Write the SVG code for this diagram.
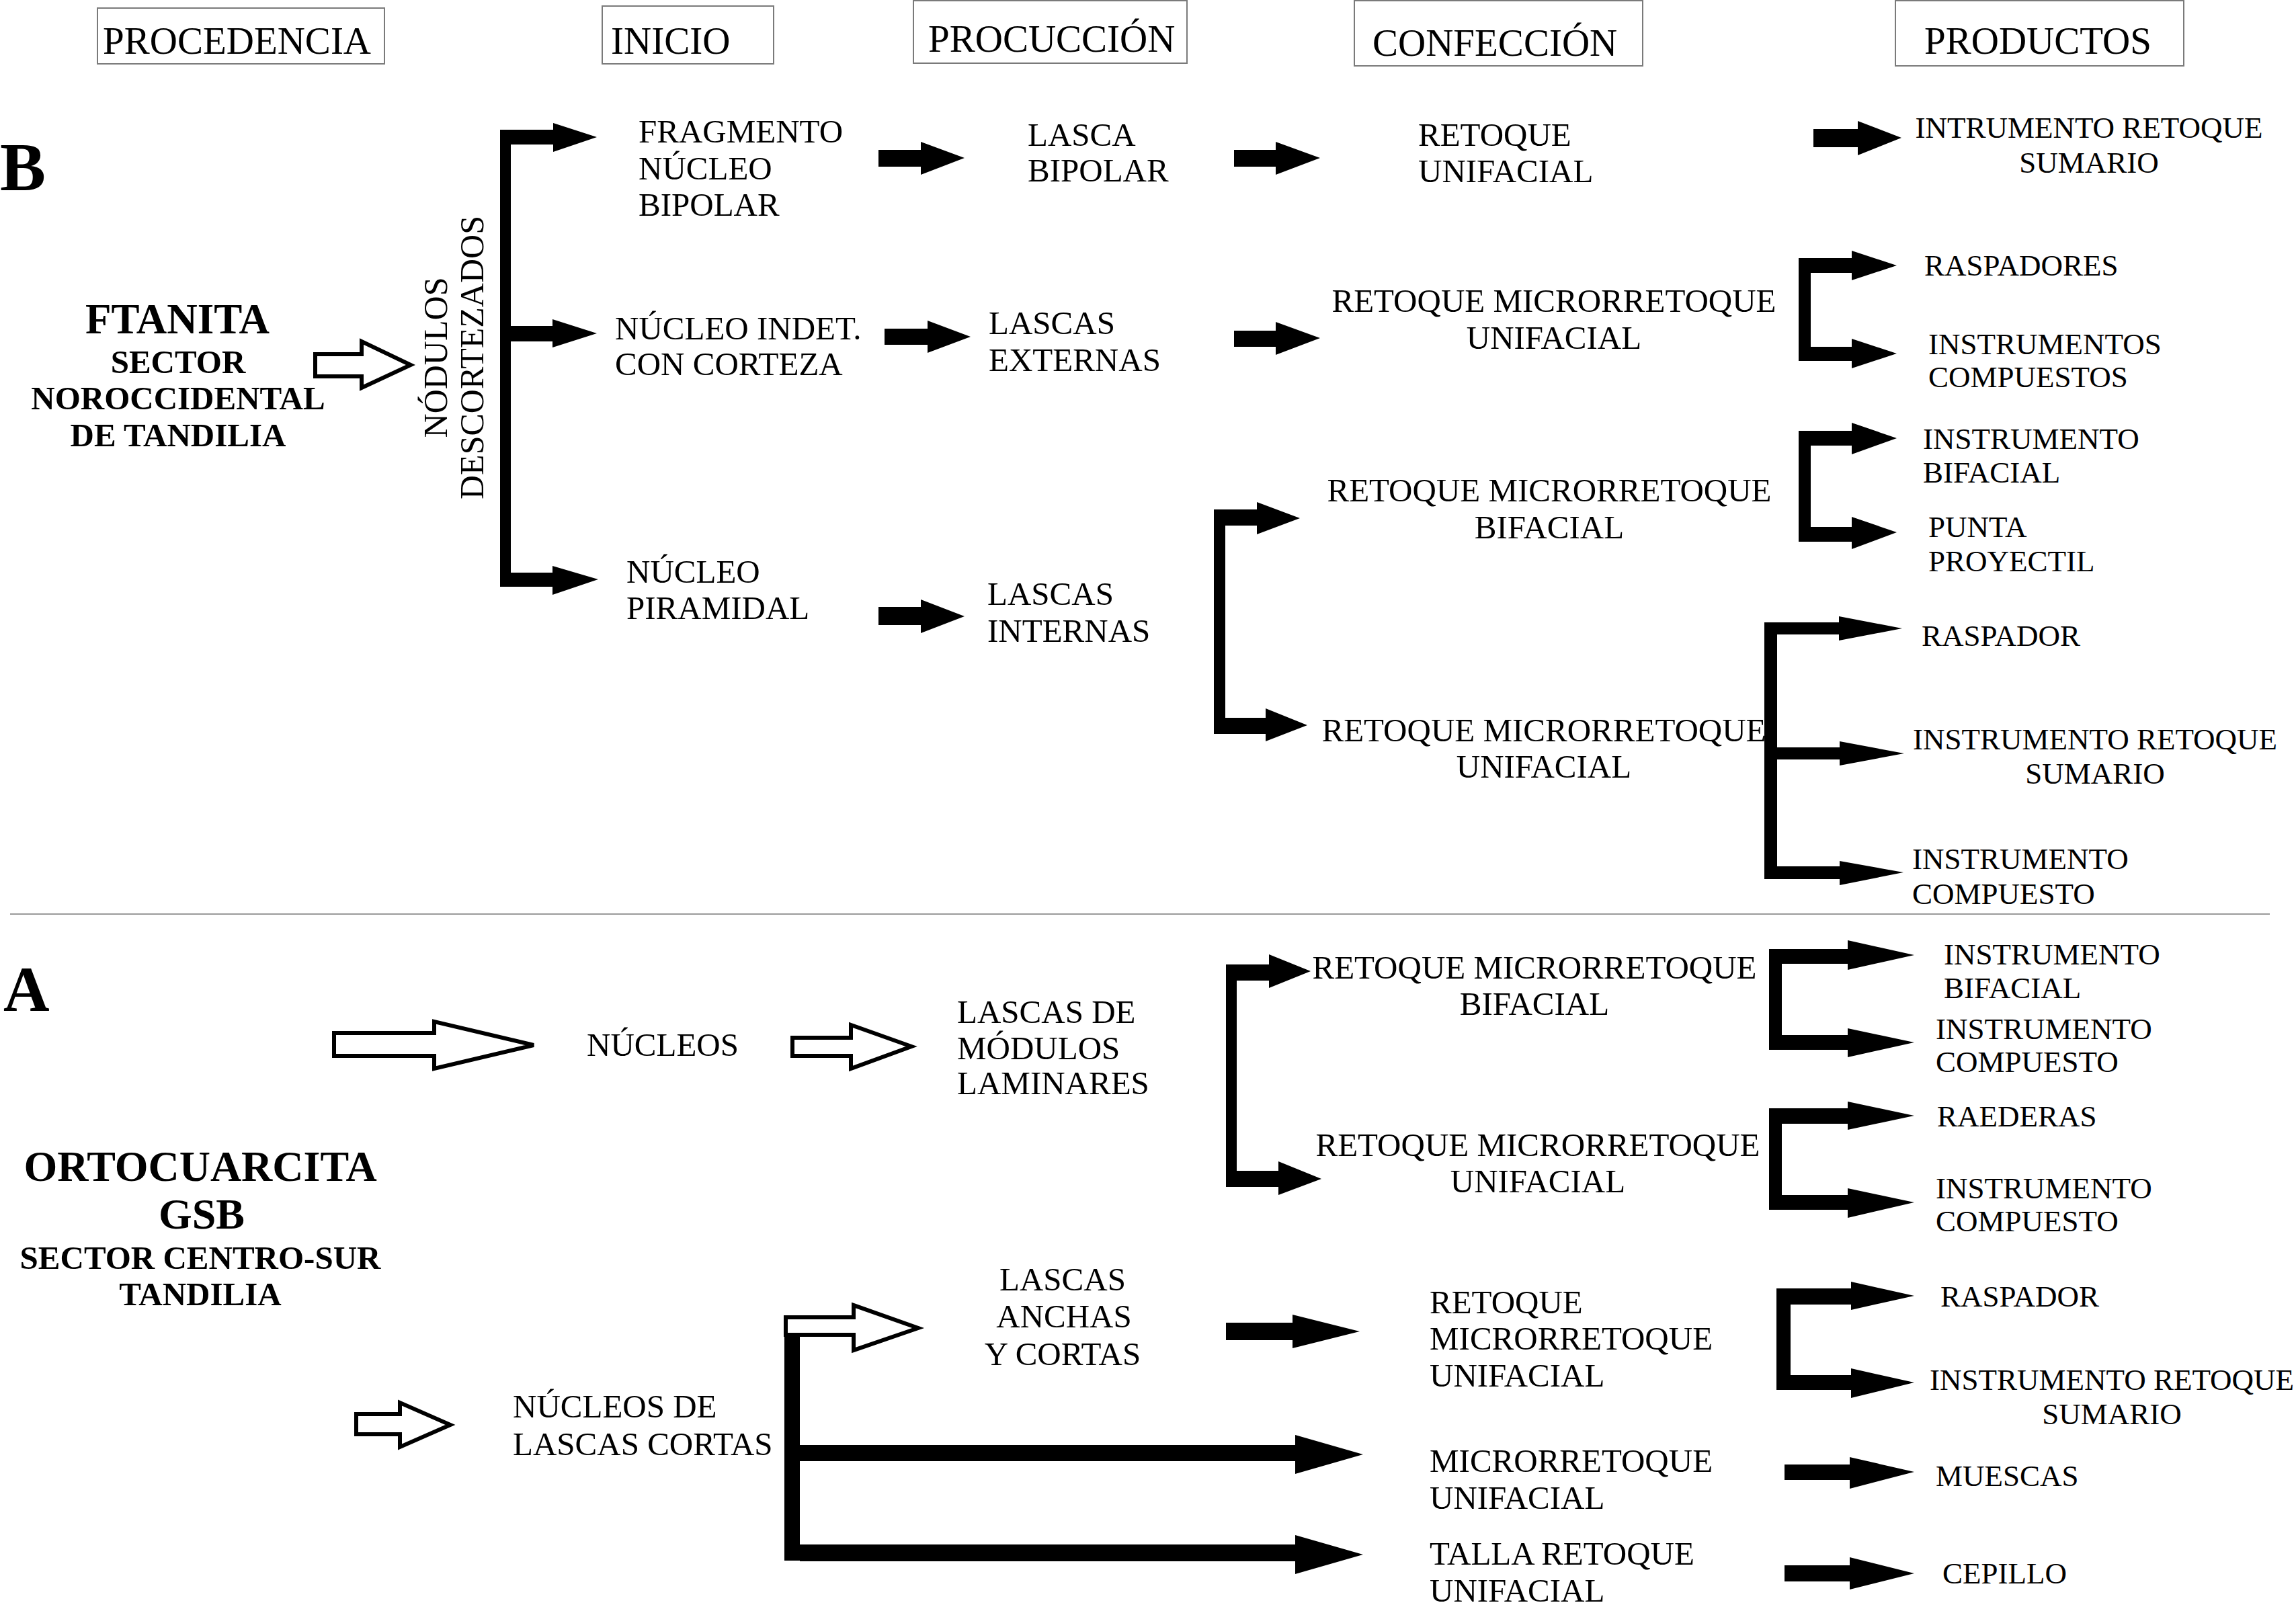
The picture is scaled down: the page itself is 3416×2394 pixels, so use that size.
<svg xmlns="http://www.w3.org/2000/svg" width="3416" height="2394" viewBox="0 0 3416 2394">
<style>
text{font-family:"Liberation Serif","Times New Roman",serif;fill:#000}
.t{font-size:49px}
.p{font-size:45px}
.h{font-size:57px}
.b{font-weight:bold;font-size:49px}
.bl{font-weight:bold;font-size:63px}
.m{text-anchor:middle}
.box{fill:#fff;stroke:#7a7a7a;stroke-width:2}
.ar{fill:#000}
.ho{fill:#fff;stroke:#000;stroke-width:6;stroke-linejoin:miter}
.sep{stroke:#9a9a9a;stroke-width:2}
</style>
<rect width="3416" height="2394" fill="#fff"/>

<g id="headers">
<g id="h-procedencia"><rect class="box" x="145" y="12" width="427" height="83"/><text class="h" x="153" y="80">PROCEDENCIA</text></g>
<g id="h-inicio"><rect class="box" x="896" y="9" width="255" height="86"/><text class="h" x="909" y="80">INICIO</text></g>
<g id="h-produccion"><rect class="box" x="1359" y="1" width="407" height="93"/><text class="h" x="1381" y="77">PROCUCCIÓN</text></g>
<g id="h-confeccion"><rect class="box" x="2015" y="1" width="429" height="97"/><text class="h" x="2042" y="83">CONFECCIÓN</text></g>
<g id="h-productos"><rect class="box" x="2820" y="1" width="429" height="97"/><text class="h" x="2863" y="80">PRODUCTOS</text></g>
</g>

<g id="connectors">
<!-- B -->
<polygon class="ho" points="469,527 538,527 538,508 611,543 538,577 538,560 469,560"/>
<rect class="ar" x="744" y="193" width="16" height="680"/>
<polygon class="ar" points="760,193 823,193 823,183 888,204 823,226 823,215 760,215"/>
<polygon class="ar" points="760,485 822,485 822,475 888,496 822,517 822,508 760,508"/>
<polygon class="ar" points="760,852 822,852 822,842 890,862 822,885 822,873 760,873"/>
<polygon class="ar" points="1307,223 1370,223 1370,211 1435,235 1370,260 1370,248 1307,248"/>
<polygon class="ar" points="1836,223 1898,223 1898,211 1964,235 1898,260 1898,248 1836,248"/>
<polygon class="ar" points="2698,192 2764,192 2764,180 2829,205 2764,231 2764,219 2698,219"/>
<polygon class="ar" points="1316,489 1380,489 1380,477 1444,501 1380,525 1380,513 1316,513"/>
<polygon class="ar" points="1836,492 1898,492 1898,479 1964,503 1898,528 1898,516 1836,516"/>
<polygon class="ar" points="1307,903 1370,903 1370,892 1435,917 1370,942 1370,930 1307,930"/>
<rect class="ar" x="2676" y="384" width="18" height="153"/>
<polygon class="ar" points="2694,384 2755,384 2755,373 2822,395 2755,417 2755,406 2694,406"/>
<polygon class="ar" points="2694,516 2755,516 2755,504 2822,526 2755,548 2755,537 2694,537"/>
<rect class="ar" x="1806" y="758" width="17" height="334"/>
<polygon class="ar" points="1823,758 1870,758 1870,747 1934,771 1870,795 1870,782 1823,782"/>
<polygon class="ar" points="1823,1068 1883,1068 1883,1054 1945,1079 1883,1103 1883,1092 1823,1092"/>
<rect class="ar" x="2676" y="641" width="18" height="165"/>
<polygon class="ar" points="2694,641 2755,641 2755,629 2822,652 2755,676 2755,663 2694,663"/>
<polygon class="ar" points="2694,784 2755,784 2755,769 2822,792 2755,817 2755,806 2694,806"/>
<rect class="ar" x="2625" y="926" width="19" height="382"/>
<polygon class="ar" points="2644,926 2736,926 2736,917 2830,935 2736,953 2736,944 2644,944"/>
<polygon class="ar" points="2644,1112 2737,1112 2737,1103 2833,1121 2737,1139 2737,1130 2644,1130"/>
<polygon class="ar" points="2644,1289 2737,1289 2737,1281 2832,1298 2737,1317 2737,1308 2644,1308"/>
<line class="sep" x1="15" y1="1360" x2="3377" y2="1360"/>
<!-- A -->
<polygon class="ho" points="497,1537 646,1537 646,1520 794,1555 646,1590 646,1571 497,1571"/>
<polygon class="ho" points="1179,1544 1266,1544 1266,1525 1356,1557 1266,1590 1266,1571 1179,1571"/>
<polygon class="ho" points="530,2104 595,2104 595,2087 670,2120 595,2153 595,2134 530,2134"/>
<polygon class="ho" points="1169,1960 1270,1960 1270,1942 1366,1976 1270,2009 1270,1986 1169,1986"/>
<rect class="ar" x="1167" y="1986" width="23" height="336"/>
<polygon class="ar" points="1190,2150 1927,2150 1927,2135 2028,2164 1927,2193 1927,2174 1190,2174"/>
<polygon class="ar" points="1190,2298 1927,2298 1927,2284 2028,2313 1927,2342 1927,2323 1190,2323"/>
<polygon class="ar" points="1824,1968 1923,1968 1923,1956 2023,1981 1923,2006 1923,1994 1824,1994"/>
<rect class="ar" x="1824" y="1435" width="16" height="331"/>
<polygon class="ar" points="1840,1435 1888,1435 1888,1420 1950,1445 1888,1470 1888,1459 1840,1459"/>
<polygon class="ar" points="1840,1742 1902,1742 1902,1728 1966,1754 1902,1778 1902,1766 1840,1766"/>
<rect class="ar" x="2632" y="1412" width="19" height="150"/>
<polygon class="ar" points="2651,1412 2749,1412 2749,1399 2848,1421 2749,1443 2749,1434 2651,1434"/>
<polygon class="ar" points="2651,1540 2749,1540 2749,1530 2848,1551 2749,1573 2749,1562 2651,1562"/>
<rect class="ar" x="2632" y="1649" width="19" height="151"/>
<polygon class="ar" points="2651,1649 2749,1649 2749,1639 2848,1660 2749,1681 2749,1672 2651,1672"/>
<polygon class="ar" points="2651,1778 2749,1778 2749,1768 2848,1789 2749,1812 2749,1800 2651,1800"/>
<rect class="ar" x="2643" y="1917" width="21" height="151"/>
<polygon class="ar" points="2664,1917 2754,1917 2754,1907 2848,1928 2754,1949 2754,1941 2664,1941"/>
<polygon class="ar" points="2664,2046 2754,2046 2754,2036 2848,2057 2754,2080 2754,2068 2664,2068"/>
<polygon class="ar" points="2655,2179 2752,2179 2752,2168 2848,2190 2752,2215 2752,2202 2655,2202"/>
<polygon class="ar" points="2655,2329 2752,2329 2752,2317 2848,2341 2752,2365 2752,2353 2655,2353"/>
</g>

<g id="section-B">
<g id="label-B"><text class="b" style="font-size:102px" x="0" y="283">B</text></g>
<g id="ftanita"><text class="bl m" x="264" y="496">FTANITA</text><text class="b m" x="265" y="555">SECTOR</text><text class="b m" x="265" y="609">NOROCCIDENTAL</text><text class="b m" x="265" y="664">DE TANDILIA</text></g>
<g id="nodulos"><text style="font-size:50px" class="m" transform="translate(665,532) rotate(-90)">NÓDULOS</text><text style="font-size:50px" class="m" transform="translate(719,532) rotate(-90)">DESCORTEZADOS</text></g>
<g id="fragmento"><text class="t" x="950" y="212">FRAGMENTO</text><text class="t" x="950" y="267">NÚCLEO</text><text class="t" x="950" y="321">BIPOLAR</text></g>
<g id="nucleo-indet"><text class="t" x="915" y="505">NÚCLEO INDET.</text><text class="t" x="915" y="558">CON CORTEZA</text></g>
<g id="nucleo-piramidal"><text class="t" x="932" y="867">NÚCLEO</text><text class="t" x="932" y="921">PIRAMIDAL</text></g>
<g id="lasca-bipolar"><text class="t" x="1529" y="217">LASCA</text><text class="t" x="1529" y="270">BIPOLAR</text></g>
<g id="lascas-externas"><text class="t" x="1471" y="497">LASCAS</text><text class="t" x="1471" y="552">EXTERNAS</text></g>
<g id="lascas-internas"><text class="t" x="1469" y="900">LASCAS</text><text class="t" x="1469" y="955">INTERNAS</text></g>
<g id="b-retoque-unifacial"><text class="t" x="2110" y="217">RETOQUE</text><text class="t" x="2110" y="271">UNIFACIAL</text></g>
<g id="b-rm-unifacial-1"><text class="t m" x="2312" y="464">RETOQUE MICRORRETOQUE</text><text class="t m" x="2312" y="519">UNIFACIAL</text></g>
<g id="b-rm-bifacial"><text class="t m" x="2305" y="746">RETOQUE MICRORRETOQUE</text><text class="t m" x="2305" y="801">BIFACIAL</text></g>
<g id="b-rm-unifacial-2"><text class="t m" x="2297" y="1103">RETOQUE MICRORRETOQUE</text><text class="t m" x="2297" y="1157">UNIFACIAL</text></g>
<g id="b-p-intrumento"><text class="p m" x="3108" y="205">INTRUMENTO RETOQUE</text><text class="p m" x="3108" y="257">SUMARIO</text></g>
<g id="b-p-raspadores"><text class="p" x="2863" y="410">RASPADORES</text></g>
<g id="b-p-instrumentos-compuestos"><text class="p" x="2869" y="527">INSTRUMENTOS</text><text class="p" x="2869" y="576">COMPUESTOS</text></g>
<g id="b-p-instrumento-bifacial"><text class="p" x="2861" y="668">INSTRUMENTO</text><text class="p" x="2861" y="718">BIFACIAL</text></g>
<g id="b-p-punta"><text class="p" x="2869" y="799">PUNTA</text><text class="p" x="2869" y="850">PROYECTIL</text></g>
<g id="b-p-raspador"><text class="p" x="2859" y="961">RASPADOR</text></g>
<g id="b-p-instrumento-retoque"><text class="p m" x="3117" y="1115">INSTRUMENTO RETOQUE</text><text class="p m" x="3117" y="1166">SUMARIO</text></g>
<g id="b-p-instrumento-compuesto"><text class="p" x="2845" y="1293">INSTRUMENTO</text><text class="p" x="2845" y="1345">COMPUESTO</text></g>
</g>

<g id="section-A">
<g id="label-A"><text class="b" style="font-size:95px" x="5" y="1504">A</text></g>
<g id="ortocuarcita"><text class="bl m" style="font-size:64px" x="298" y="1757">ORTOCUARCITA</text><text class="bl m" style="font-size:64px" x="300" y="1828">GSB</text><text class="b m" x="298" y="1888">SECTOR CENTRO-SUR</text><text class="b m" x="298" y="1942">TANDILIA</text></g>
<g id="nucleos"><text class="t" x="873" y="1571">NÚCLEOS</text></g>
<g id="lascas-modulos"><text class="t" x="1424" y="1522">LASCAS DE</text><text class="t" x="1424" y="1576">MÓDULOS</text><text class="t" x="1424" y="1628">LAMINARES</text></g>
<g id="nucleos-lascas-cortas"><text class="t" x="763" y="2109">NÚCLEOS DE</text><text class="t" x="763" y="2165">LASCAS CORTAS</text></g>
<g id="lascas-anchas"><text class="t m" x="1581" y="1920">LASCAS</text><text class="t m" x="1583" y="1975">ANCHAS</text><text class="t m" x="1581" y="2031">Y CORTAS</text></g>
<g id="a-rm-bifacial"><text class="t m" x="2283" y="1456">RETOQUE MICRORRETOQUE</text><text class="t m" x="2283" y="1510">BIFACIAL</text></g>
<g id="a-rm-unifacial"><text class="t m" x="2288" y="1720">RETOQUE MICRORRETOQUE</text><text class="t m" x="2288" y="1774">UNIFACIAL</text></g>
<g id="a-retoque-micro-unifacial"><text class="t" x="2127" y="1954">RETOQUE</text><text class="t" x="2127" y="2008">MICRORRETOQUE</text><text class="t" x="2127" y="2063">UNIFACIAL</text></g>
<g id="a-micro-unifacial"><text class="t" x="2127" y="2190">MICRORRETOQUE</text><text class="t" x="2127" y="2245">UNIFACIAL</text></g>
<g id="a-talla"><text class="t" x="2127" y="2328">TALLA RETOQUE</text><text class="t" x="2127" y="2383">UNIFACIAL</text></g>
<g id="a-p-instrumento-bifacial"><text class="p" x="2892" y="1435">INSTRUMENTO</text><text class="p" x="2892" y="1485">BIFACIAL</text></g>
<g id="a-p-instrumento-compuesto-1"><text class="p" x="2880" y="1546">INSTRUMENTO</text><text class="p" x="2880" y="1595">COMPUESTO</text></g>
<g id="a-p-raederas"><text class="p" x="2882" y="1676">RAEDERAS</text></g>
<g id="a-p-instrumento-compuesto-2"><text class="p" x="2880" y="1783">INSTRUMENTO</text><text class="p" x="2880" y="1832">COMPUESTO</text></g>
<g id="a-p-raspador"><text class="p" x="2887" y="1944">RASPADOR</text></g>
<g id="a-p-instrumento-retoque"><text class="p m" x="3142" y="2068">INSTRUMENTO RETOQUE</text><text class="p m" x="3142" y="2119">SUMARIO</text></g>
<g id="a-p-muescas"><text class="p" x="2880" y="2211">MUESCAS</text></g>
<g id="a-p-cepillo"><text class="p" x="2890" y="2356">CEPILLO</text></g>
</g>
</svg>
